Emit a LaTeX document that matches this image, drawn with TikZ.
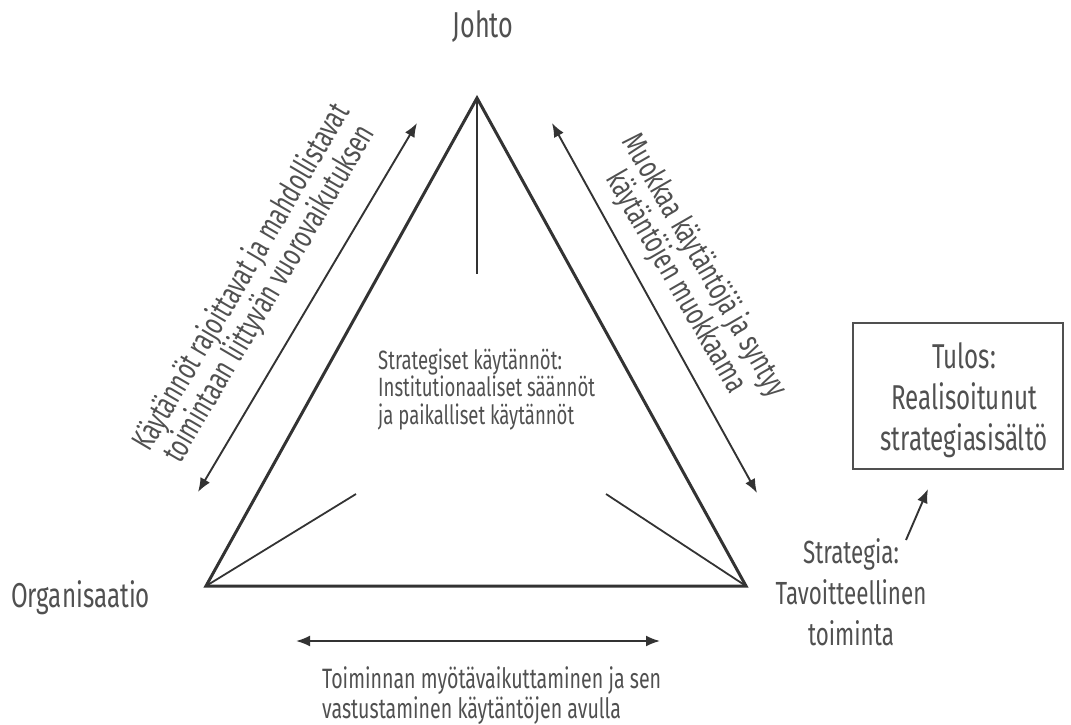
\documentclass[tikz,border=0pt]{standalone}
\usepackage{fontspec}
\setmainfont{Fira Sans}[FakeStretch=0.7]
\usetikzlibrary{arrows.meta}
\definecolor{ink}{HTML}{333333}
\definecolor{txt}{HTML}{505050}
\begin{document}
\begin{tikzpicture}[x=1pt,y=-1pt,
  frame/.style={draw=ink,line width=3pt,line join=miter},
  spoke/.style={draw=ink,line width=1.8pt},
  link/.style={draw=ink,line width=1.9pt,{Latex[length=14pt,width=11pt]}-{Latex[length=14pt,width=11pt]}},
  onelink/.style={draw=ink,line width=1.9pt,-{Latex[length=14pt,width=11pt]}},
  lbl/.style={text=txt,inner sep=0pt},
  small/.style={lbl,font=\fontsize{26.5}{27.5}\selectfont,align=left},
  slant/.style={lbl,font=\fontsize{32}{32.5}\selectfont,align=center},
  big/.style={lbl,font=\fontsize{32}{41}\selectfont,align=center}]
\useasboundingbox (0,0) rectangle (1071,724);

% triangle corners and inner spokes
\coordinate (A) at (477,98);
\coordinate (L) at (206,586);
\coordinate (R) at (746,586);
\coordinate (Ain) at (477,274);
\coordinate (Lin) at (356,494);
\coordinate (Rin) at (606,494);
\draw[frame] (A) -- (L) -- (R) -- cycle;
\draw[spoke] (A) -- (Ain);
\draw[spoke] (L) -- (Lin);
\draw[spoke] (R) -- (Rin);

% two-headed arrows along the sides
\coordinate (la1) at (198,492);
\coordinate (la2) at (417,123);
\coordinate (ra1) at (552,123);
\coordinate (ra2) at (757,493);
\coordinate (ba1) at (296,641);
\coordinate (ba2) at (660,641);
\draw[link] (la1) -- (la2);
\draw[link] (ra1) -- (ra2);
\draw[link] (ba1) -- (ba2);

% corner labels (base anchors sit on the last line)
\node[big,font=\fontsize{36}{41}\selectfont,anchor=base] (johto) at (483,37) {Johto};
\node[big,font=\fontsize{34.5}{41}\selectfont,anchor=base west] (org) at (11,607) {Organisaatio};
\node[big,anchor=base] (strat) at (851,645) {Strategia:\\Tavoitteellinen\\toiminta};

% centre text
\node[small,anchor=base west] (keskus) at (378,424)
  {Strategiset käytännöt:\\Institutionaaliset säännöt\\ja paikalliset käytännöt};

% side texts
\node[slant,rotate=59.5] (vasen) at (256,286)
  {Käytännöt rajoittavat ja mahdollistavat\\toimintaan liittyvän vuorovaikutuksen};
\node[slant,rotate=-60] (oikea) at (690,274)
  {Muokkaa käytäntöjä ja syntyy\\käytäntöjen muokkaama};
\node[small,font=\fontsize{28}{29.5}\selectfont,anchor=base west] (ala) at (322,718)
  {Toiminnan myötävaikuttaminen ja sen\\vastustaminen käytäntöjen avulla};

% result box
\draw[draw=txt,line width=2pt] (853,323) rectangle (1063,469);
\node[big,font=\fontsize{34.5}{41}\selectfont,anchor=base] (tulos) at (964,450)
  {Tulos:\\Realisoitunut\\strategiasisältö};
\coordinate (s1) at (906,540);
\coordinate (s2) at (928,489);
\draw[onelink] (s1) -- (s2);
\end{tikzpicture}
\end{document}
